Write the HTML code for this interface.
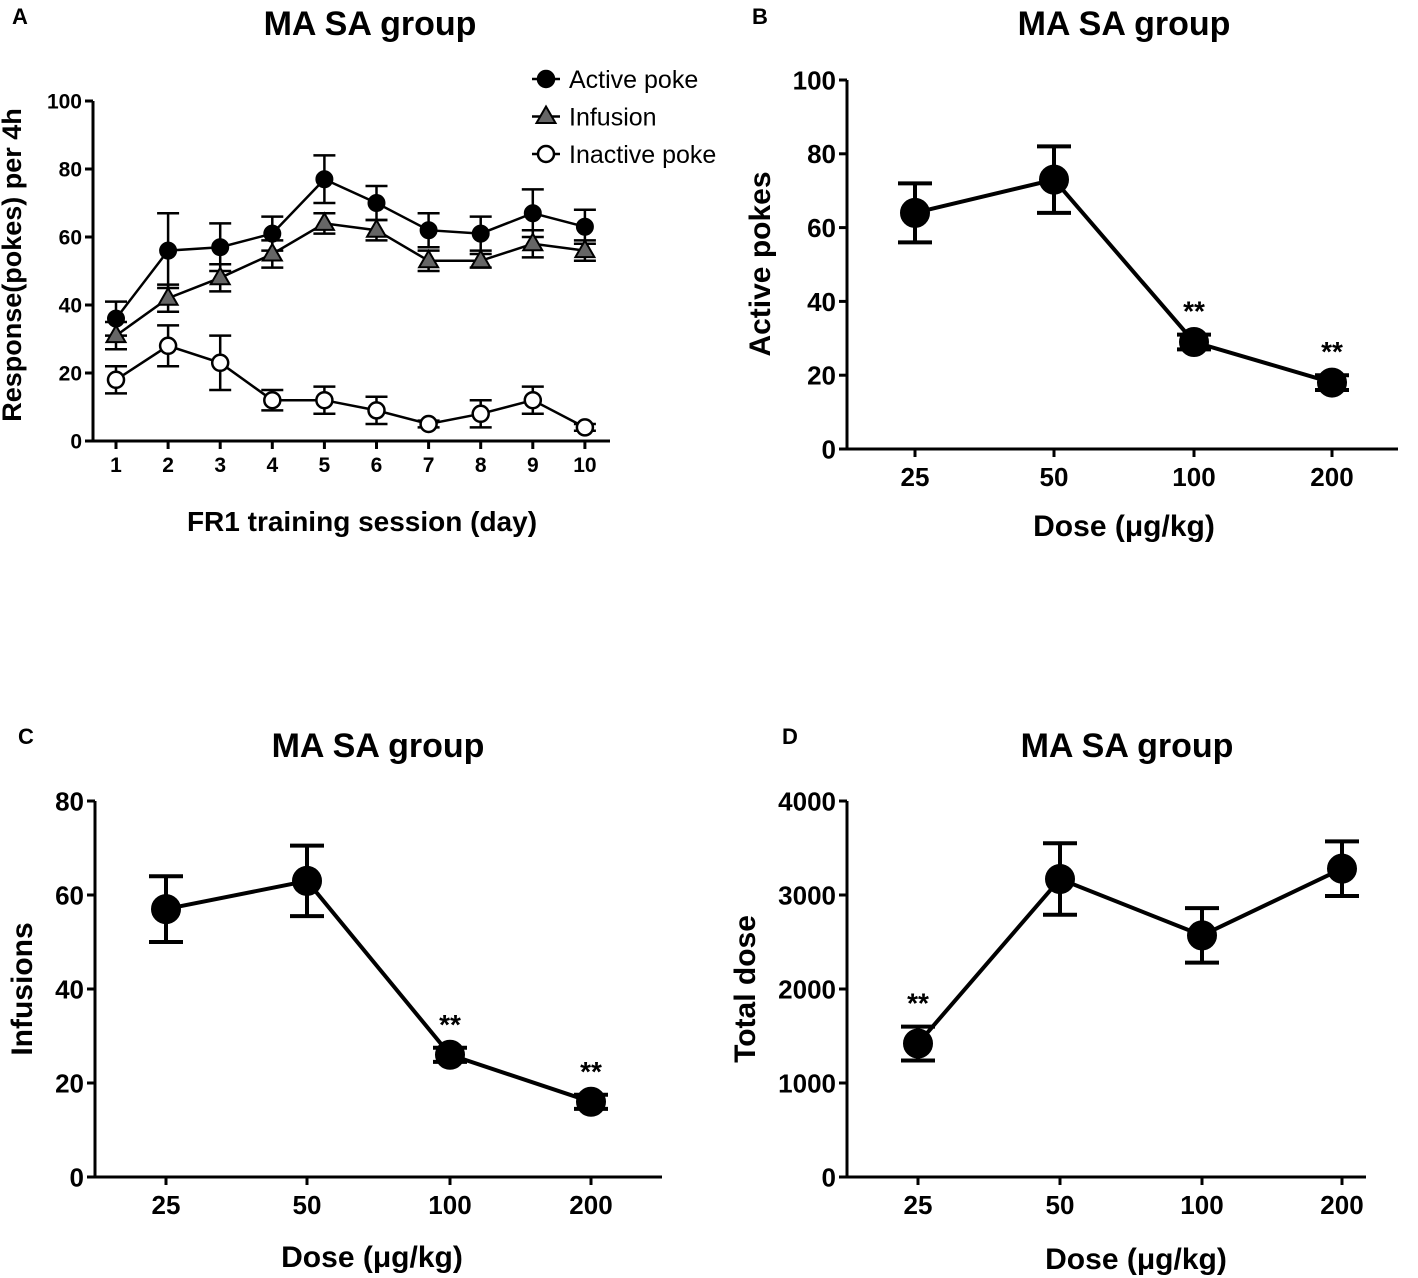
<!DOCTYPE html>
<html><head><meta charset="utf-8">
<style>
body{margin:0;background:#fff;}
svg{display:block;font-family:"Liberation Sans",Arial,sans-serif;}
</style></head>
<body>
<svg id="fig" width="1418" height="1278" viewBox="0 0 1418 1278" xmlns="http://www.w3.org/2000/svg"></svg>
<script>
// Panel A data
const daysA = [1,2,3,4,5,6,7,8,9,10];
const activeA = [36,56,57,61,77,70,62,61,67,63];
const activeErrA = [5,11,7,5,7,5,5,5,7,5];
const infusionA = [31,42,48,55,64,62,53,53,58,56];
const infusionErrA = [4,4,4,4,3,3,3,2,4,3];
const inactiveA = [18,28,23,12,12,9,5,8,12,4];
const inactiveErrA = [4,6,8,3,4,4,1,4,4,1];
const ticksA = [0,20,40,60,80,100];
// Dose panels
const doseLabels = ["25","50","100","200"];
const activeB = [64,73,29,18];
const activeErrB = [8,9,2,2];
const sigB = ["","","**","**"];
const ticksB = [0,20,40,60,80,100];
const infusionC = [57,63,26,16];
const infusionErrC = [7,7.5,1.5,1.5];
const sigC = ["","","**","**"];
const ticksC = [0,20,40,60,80];
const totalD = [1420,3170,2570,3280];
const totalErrD = [180,380,290,290];
const sigD = ["**","","",""];
const ticksD = [0,1000,2000,3000,4000];

const NS="http://www.w3.org/2000/svg";
const svg=document.getElementById('fig');
function el(tag,attrs,parent){const e=document.createElementNS(NS,tag);for(const k in attrs)e.setAttribute(k,attrs[k]);(parent||svg).appendChild(e);return e;}
function txt(s,attrs,parent){const e=el('text',attrs,parent);e.textContent=s;return e;}

function panel(cfg){
  const g=el('g',{});
  
  
  const ys=v=>cfg.y0-(v-cfg.vmin)/(cfg.vmax-cfg.vmin)*(cfg.y0-cfg.y1);
  const ax=el('path',{d:`M${cfg.ax} ${cfg.y1} V${cfg.y0} H${cfg.axEnd}`,stroke:'#000','stroke-width':3,fill:'none'},g);
  
  
  cfg.ticks.forEach(t=>{
    const y=ys(t);
    el('line',{x1:cfg.ax-8,x2:cfg.ax,y1:y,y2:y,stroke:'#000','stroke-width':3},g);
    const tl=txt(String(t),{x:cfg.ax-11,y:y+cfg.tickFs*0.36,'text-anchor':'end','font-size':cfg.tickFs,'font-weight':'bold'},g);
    
    
  });
  cfg.xlabels.forEach((l,i)=>{
    const x=cfg.xs(i);
    el('line',{x1:x,x2:x,y1:cfg.y0,y2:cfg.y0+8,stroke:'#000','stroke-width':3},g);
    const tl=txt(l,{x:x,y:cfg.y0+cfg.xlOff,'text-anchor':'middle','font-size':cfg.tickFs,'font-weight':'bold'},g);
    
    
  });
  const t=txt(cfg.title,{x:cfg.titleX,y:cfg.titleY,'text-anchor':'middle','font-size':34,'font-weight':'bold'},g);
  
  
  const xt=txt(cfg.xtitle,{x:cfg.xtX,y:cfg.xtY,'text-anchor':'middle','font-size':cfg.axFs,'font-weight':'bold'},g);
  
  
  const yt=txt(cfg.ytitle,{x:0,y:0,'text-anchor':'middle','font-size':cfg.yFs||cfg.axFs,'font-weight':'bold',transform:`translate(${cfg.ytX},${cfg.ytY}) rotate(-90)`},g);
  
  
  const pl=txt(cfg.letter,{x:cfg.letterX,y:cfg.letterY,'font-size':22,'font-weight':'bold'},g);
  
  
  return {g,ys};
}

function series(g,xs,ys,vals,errs,opt){
  const sg=el('g',{},g);
  
  
  let d='';
  vals.forEach((v,i)=>{d+=(i?'L':'M')+xs(i)+' '+ys(v);});
  el('path',{d,stroke:'#000','stroke-width':opt.lw,fill:'none'},sg);
  vals.forEach((v,i)=>{
    const x=xs(i),yt=ys(v+errs[i]),yb=ys(v-errs[i]),w=opt.cap;
    el('path',{d:`M${x} ${yt}V${yb}M${x-w} ${yt}H${x+w}M${x-w} ${yb}H${x+w}`,stroke:'#000','stroke-width':opt.elw,fill:'none'},sg);
  });
  vals.forEach((v,i)=>{
    const x=xs(i),y=ys(v);let m;
    if(opt.marker==='tri'){const r=opt.r;m=el('path',{d:`M${x} ${y-r}L${x+r*0.95} ${y+r*0.65}L${x-r*0.95} ${y+r*0.65}Z`,fill:'#666',stroke:'#000','stroke-width':2},sg);}
    else m=el('circle',{cx:x,cy:y,r:opt.r,fill:opt.fill,stroke:'#000','stroke-width':opt.mlw||2},sg);
    
    
    if(opt.sig&&opt.sig[i]){
      const s=txt(opt.sig[i],{x:x,y:ys(v+errs[i])-14,'text-anchor':'middle','font-size':28,'font-weight':'bold'},sg);
      
      
    }
  });
}

// Panel A
(function(){
  const xs=i=>116+(daysA[i]-1)*52.1;
  const {g,ys}=panel({name:'panel-a',ax:93,axEnd:610,y0:441,y1:101,vmin:0,vmax:100,ticks:ticksA,
    xlabels:daysA.map(String),xs,xlOff:31,tickFs:21,axFs:28,yFs:27,title:'MA SA group',titleX:370,titleY:35,
    xtitle:'FR1 training session (day)',xtX:362,xtY:531,ytitle:'Response(pokes) per 4h',ytX:21,ytY:265,letter:'A',letterX:12,letterY:24});
  series(g,xs,ys,activeA,activeErrA,{name:'series-active-poke',marker:'circle',fill:'#000',r:8,lw:2.5,elw:2.5,cap:11});
  series(g,xs,ys,infusionA,infusionErrA,{name:'series-infusion',marker:'tri',r:10,lw:2.5,elw:2.5,cap:11});
  series(g,xs,ys,inactiveA,inactiveErrA,{name:'series-inactive-poke',marker:'circle',fill:'#fff',r:8,lw:2.5,elw:2.5,cap:11,mlw:2.5});
  const lg=el('g',{},g);
  
  
  const items=[['Active poke','c'],['Infusion','t'],['Inactive poke','o']];
  items.forEach((it,k)=>{
    const y=79+k*37.5;
    const e=el('g',{},lg);
    
    
    el('line',{x1:532,x2:560,y1:y,y2:y,stroke:'#000','stroke-width':2.5},e);
    if(it[1]==='t')el('path',{d:`M546 ${y-10}L555.5 ${y+6.5}L536.5 ${y+6.5}Z`,fill:'#666',stroke:'#000','stroke-width':2},e);
    else el('circle',{cx:546,cy:y,r:8,fill:it[1]==='c'?'#000':'#fff',stroke:'#000','stroke-width':2.5},e);
    txt(it[0],{x:569,y:y+9,'font-size':25},e);
  });
})();

function dosePanel(c){
  const xs=i=>c.xpos[i];
  const {g,ys}=panel({name:c.name,ax:c.ax,axEnd:c.axEnd,y0:c.y0,y1:c.y1,vmin:0,vmax:c.vmax,ticks:c.ticks,
    xlabels:doseLabels,xs,xlOff:37,tickFs:26,axFs:30,title:'MA SA group',titleX:c.titleX,titleY:c.titleY,
    xtitle:'Dose (μg/kg)',xtX:c.xtX,xtY:c.xtY,ytitle:c.ytitle,ytX:c.ytX,ytY:c.ytY,letter:c.letter,letterX:c.letterX,letterY:c.letterY});
  series(g,xs,ys,c.vals,c.errs,{name:'series-'+c.ytitle.toLowerCase().replace(/ /g,'-'),marker:'circle',fill:'#000',r:14,lw:4,elw:4,cap:17,sig:c.sig});
}
dosePanel({name:'panel-b',ax:847,axEnd:1398,y0:449,y1:80,vmax:100,ticks:ticksB,xpos:[915,1054,1194,1332],
  titleX:1124,titleY:35,xtX:1124,xtY:536,ytitle:'Active pokes',ytX:770,ytY:264,letter:'B',letterX:752,letterY:24,
  vals:activeB,errs:activeErrB,sig:sigB});
dosePanel({name:'panel-c',ax:95,axEnd:662,y0:1177,y1:801,vmax:80,ticks:ticksC,xpos:[166,307,450,591],
  titleX:378,titleY:757,xtX:372,xtY:1267,ytitle:'Infusions',ytX:32,ytY:989,letter:'C',letterX:18,letterY:744,
  vals:infusionC,errs:infusionErrC,sig:sigC});
dosePanel({name:'panel-d',ax:847,axEnd:1366,y0:1177,y1:801,vmax:4000,ticks:ticksD,xpos:[918,1060,1202,1342],
  titleX:1127,titleY:757,xtX:1136,xtY:1269,ytitle:'Total dose',ytX:755,ytY:989,letter:'D',letterX:782,letterY:744,
  vals:totalD,errs:totalErrD,sig:sigD});
</script>
</body></html>
